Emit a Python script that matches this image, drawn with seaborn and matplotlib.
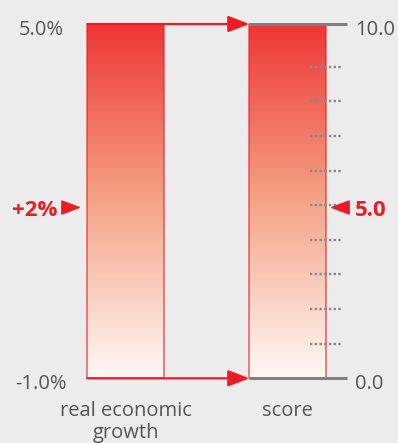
import numpy as np
import pandas as pd
import matplotlib
matplotlib.use("Agg")
import matplotlib.pyplot as plt
import seaborn as sns
from matplotlib.colors import LinearSegmentedColormap, to_rgba
from matplotlib.path import Path
from matplotlib.transforms import offset_copy

# ---- data ----
categories = ["real economic\ngrowth", "score"]
range_min = [-1.0, 0.0]
range_max = [5.0, 10.0]
current_value = [2.0, 5.0]
min_labels = ["-1.0%", "0.0"]
max_labels = ["5.0%", "10.0"]
current_labels = ["+2%", "5.0"]
score_minor_ticks = [1, 2, 3, 4, 5, 6, 7, 8, 9]

# ---- style ----
BG = "#ECECEC"
RED = "#ED1C24"
GRAY_LINE = "#808080"
DOT = "#888888"
TXT = "#555555"
TOP_PAD = 0.023
BAR_W = 0.47

norm_current = [(c - lo) / (hi - lo) for c, lo, hi in zip(current_value, range_min, range_max)]
bar_top = 1.0 + TOP_PAD
df = pd.DataFrame({"category": categories, "extent": [bar_top] * len(categories)})

sns.set_theme(style="white")
plt.rcParams["font.family"] = ["Open Sans", "DejaVu Sans"]

fig = plt.figure(figsize=(3.98, 4.43), dpi=100, facecolor=BG)
ax = fig.add_axes([0, 0, 1, 1])
ax.set_facecolor(BG)

sns.barplot(data=df, x="category", y="extent", width=BAR_W, color="white", ax=ax, zorder=2)

cmap = LinearSegmentedColormap.from_list(
    "grad", [(0.0, "#FFF8F5"), (0.5, "#F4A386"), (1.0, "#EE3636")])
grad = np.linspace(0, 1, 256).reshape(-1, 1)
bars = list(ax.patches)
for p in bars:
    x0, y0 = p.get_xy()
    w, h = p.get_width(), p.get_height()
    im = ax.imshow(grad, extent=[x0, x0 + w, y0, y0 + h], origin="lower",
                   cmap=cmap, aspect="auto", zorder=1, interpolation="bilinear")
    im.set_clip_path(p)
    p.set_facecolor("none")
    p.set_edgecolor(to_rgba(RED, 0.6))
    p.set_linewidth(1.3)
    p.set_zorder(2)

left_bar, right_bar = bars[0], bars[1]
lb_x0 = left_bar.get_x()
rb_x0 = right_bar.get_x()

# connecting arrows
for yv in [0.0, bar_top]:
    ax.annotate("", xy=(rb_x0, yv), xytext=(lb_x0, yv),
                arrowprops=dict(arrowstyle="-|>,head_length=1.3,head_width=0.5",
                                mutation_scale=10, color=RED, lw=1.6,
                                shrinkA=0, shrinkB=0),
                zorder=3)

# score axis lines
gray_end = 1.367
for yv in [0.0, bar_top]:
    ax.plot([rb_x0, gray_end], [yv, yv], color=GRAY_LINE, lw=2.2,
            solid_capstyle="butt", zorder=4)

# dotted minor ticks
for t in score_minor_ticks:
    tv = (t - range_min[1]) / (range_max[1] - range_min[1])
    ax.plot([1.139, 1.336], [tv, tv], color=DOT, lw=1.7, ls=(0, (1, 1)), zorder=4)

# transforms with pixel offsets (text baselines sit below the reference line)
tr_base = offset_copy(ax.transData, fig=fig, x=0, y=-10.5, units="dots")
tr_mark = offset_copy(ax.transData, fig=fig, x=0, y=-1.7, units="dots")

# range labels
fs = 14.5
ax.text(-0.5216, bar_top, max_labels[0], ha="center", va="baseline", fontsize=fs,
        color=TXT, transform=tr_base)
ax.text(-0.5216, 0.0, min_labels[0], ha="center", va="baseline", fontsize=fs,
        color=TXT, transform=tr_base)
ax.text(1.417, bar_top, max_labels[1], ha="left", va="baseline", fontsize=fs,
        color=TXT, transform=tr_base)
ax.text(1.417, 0.0, min_labels[1], ha="left", va="baseline", fontsize=fs,
        color=TXT, transform=tr_base)

# category labels
for i, c in enumerate(categories):
    ax.text(i, -0.066, c, ha="center", va="top", fontsize=fs, color=TXT, linespacing=1.1)

# current value markers
right_tri = Path([(-1, -0.75), (1, 0), (-1, 0.75), (-1, -0.75)],
                 [Path.MOVETO, Path.LINETO, Path.LINETO, Path.CLOSEPOLY])
left_tri = Path([(1, -0.75), (-1, 0), (1, 0.75), (1, -0.75)],
                [Path.MOVETO, Path.LINETO, Path.LINETO, Path.CLOSEPOLY])
ax.plot([-0.3426], [norm_current[0]], marker=right_tri, ms=12.5, color=RED,
        zorder=5, transform=tr_mark)
ax.plot([1.321], [norm_current[1]], marker=left_tri, ms=12.5, color=RED,
        zorder=5, transform=tr_mark)
ax.text(-0.4228, norm_current[0], current_labels[0], ha="right", va="baseline",
        fontsize=16, fontweight="bold", color=RED, transform=tr_base)
ax.text(1.417, norm_current[1], current_labels[1], ha="left", va="baseline",
        fontsize=16, fontweight="bold", color=RED, transform=tr_base)

ax.set_xlim(-0.7747, 1.682)
ax.set_ylim(-0.1868, 1.0924)
ax.axis("off")

fig.savefig("out.png", dpi=100, facecolor=BG)
